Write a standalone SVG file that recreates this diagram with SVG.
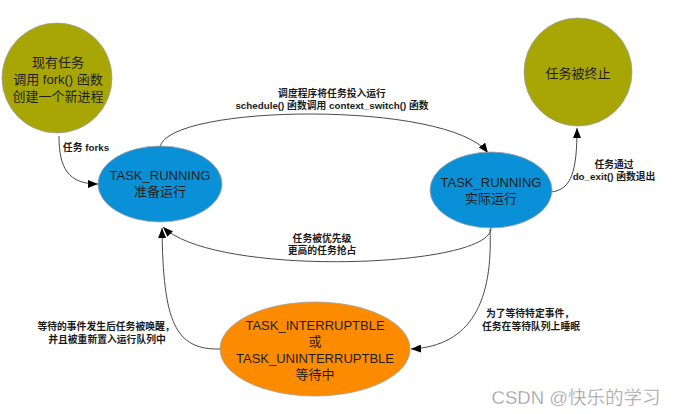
<svg xmlns="http://www.w3.org/2000/svg" width="673" height="414" viewBox="0 0 673 414">
<defs>
<marker id="arr" viewBox="0 0 10 8" refX="10" refY="4" markerWidth="10" markerHeight="8" markerUnits="userSpaceOnUse" orient="auto">
<path d="M0,0 L10,4 L0,8 Z" fill="#000"/>
</marker>
</defs>
<style>
.node{stroke:#a0a0a0;stroke-width:0.8}
.olive{fill:#a8a604}
.blue{fill:#0a90d6}
.orange{fill:#fd8b00}
.nt{font-family:"Liberation Sans","Noto Sans CJK SC",sans-serif;font-size:13px;fill:#1e1e1e;text-anchor:middle}
.lb{font-family:"Liberation Sans","Noto Sans CJK SC",sans-serif;font-size:9.8px;font-weight:bold;fill:#1a1a1a;text-anchor:middle}
.edge{fill:none;stroke:#4a4a4a;stroke-width:1}
</style>
<rect width="673" height="414" fill="#fff"/>
<g id="connectors">
<path class="edge" d="M59 136 C59 168, 68 184, 98 184" marker-end="url(#arr)"/>
<path class="edge" d="M160 147 C168 104, 448 100, 488 153" marker-end="url(#arr)"/>
<path class="edge" d="M551 192 C572 190, 577 170, 577 128" marker-end="url(#arr)"/>
<path class="edge" d="M491 228 C492 268, 215 278, 163 227" marker-end="url(#arr)"/>
<path class="edge" d="M490 229 C493 300, 472 346, 411 349" marker-end="url(#arr)"/>
<path class="edge" d="M220 349 C175 350, 163 322, 162 228" marker-end="url(#arr)"/>
</g>
<g id="labels">
<text class="lb" x="86" y="151">任务 forks</text>
<text class="lb" x="332" y="97">调度程序将任务投入运行</text>
<text class="lb" x="332" y="109">schedule() 函数调用 context_switch() 函数</text>
<text class="lb" x="614" y="168">任务通过</text>
<text class="lb" x="614" y="180">do_exit() 函数退出</text>
<text class="lb" x="322" y="242">任务被优先级</text>
<text class="lb" x="322" y="254">更高的任务抢占</text>
<text class="lb" x="530" y="317">为了等待特定事件，</text>
<text class="lb" x="531" y="330">任务在等待队列上睡眠</text>
<text class="lb" x="106" y="330">等待的事件发生后任务被唤醒，</text>
<text class="lb" x="107" y="343">并且被重新置入运行队列中</text>
</g>
<g id="node-new">
<circle class="node olive" cx="57" cy="78" r="55"/>
<text class="nt" x="58" y="67">现有任务</text>
<text class="nt" x="58" y="84">调用 fork() 函数</text>
<text class="nt" x="58" y="101">创建一个新进程</text>
</g>
<g id="node-ready">
<ellipse class="node blue" cx="160" cy="184" rx="62" ry="38"/>
<text class="nt" x="160" y="180">TASK_RUNNING</text>
<text class="nt" x="160" y="196">准备运行</text>
</g>
<g id="node-running">
<ellipse class="node blue" cx="491" cy="190" rx="61" ry="38"/>
<text class="nt" x="491" y="187">TASK_RUNNING</text>
<text class="nt" x="491" y="203">实际运行</text>
</g>
<g id="node-exit">
<circle class="node olive" cx="578" cy="72" r="54"/>
<text class="nt" x="578" y="78">任务被终止</text>
</g>
<g id="node-wait">
<ellipse class="node orange" cx="315" cy="349" rx="95" ry="47"/>
<text class="nt" x="315" y="330">TASK_INTERRUPTBLE</text>
<text class="nt" x="315" y="346">或</text>
<text class="nt" x="315" y="363">TASK_UNINTERRUPTBLE</text>
<text class="nt" x="315" y="379">等待中</text>
</g>
<text x="576" y="404" font-family="Liberation Sans,Noto Sans CJK SC,sans-serif" font-size="18.5" fill="#9a9a9a" stroke="#fff" stroke-width="0.3" text-anchor="middle">CSDN @快乐的学习</text>
</svg>
